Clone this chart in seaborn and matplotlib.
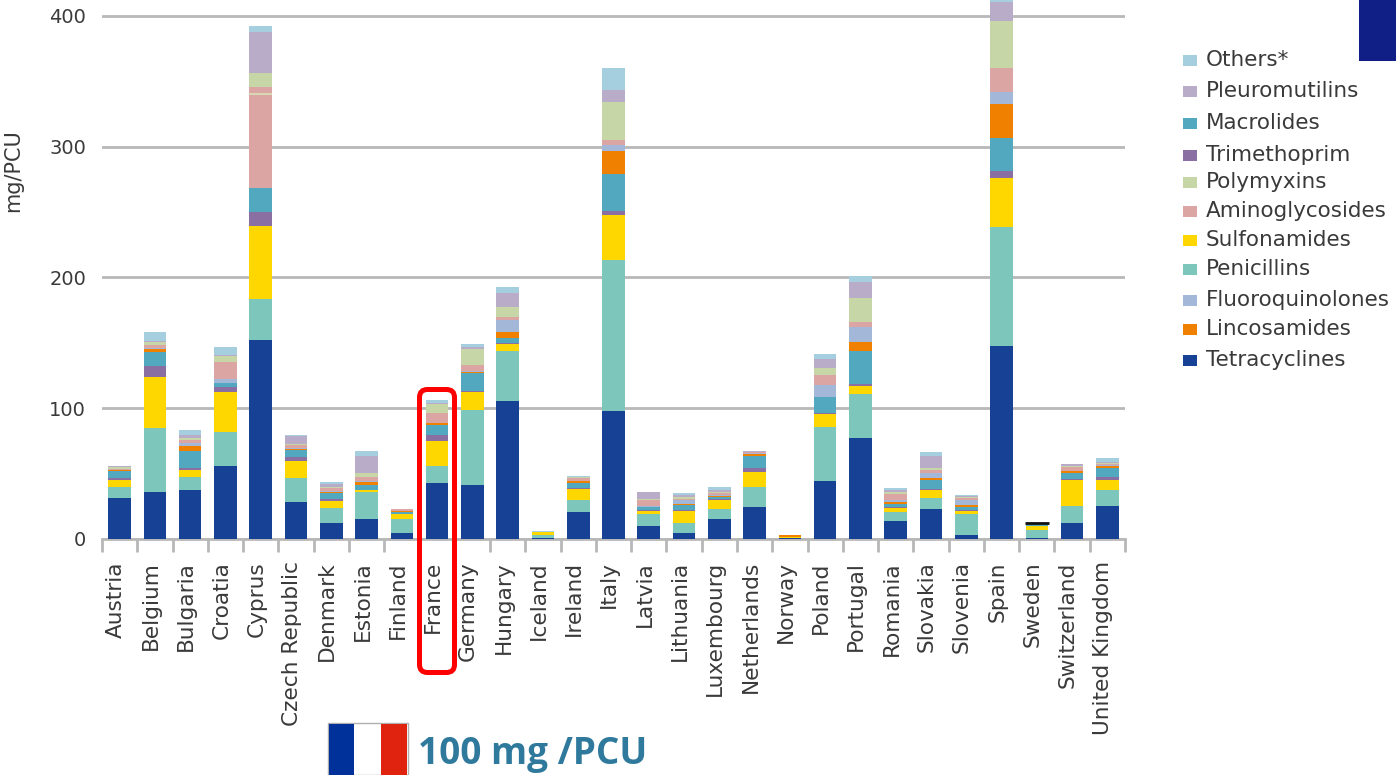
import matplotlib
matplotlib.use("Agg")
import matplotlib.pyplot as plt
import pandas as pd
import seaborn as sns
from matplotlib.patches import FancyBboxPatch, Rectangle
from matplotlib.transforms import IdentityTransform, ScaledTranslation

countries = ["Austria", "Belgium", "Bulgaria", "Croatia", "Cyprus", "Czech Republic", "Denmark", "Estonia",
             "Finland", "France", "Germany", "Hungary", "Iceland", "Ireland", "Italy", "Latvia", "Lithuania",
             "Luxembourg", "Netherlands", "Norway", "Poland", "Portugal", "Romania", "Slovakia", "Slovenia",
             "Spain", "Sweden", "Switzerland", "United Kingdom"]

tetracyclines = [31, 36, 37.5, 56, 152, 28, 12.3, 15.3, 4.7, 42.7, 41.6, 105.8, 0.8, 20.3, 97.8, 9.9, 4.7, 15.3, 24.4, 0.8, 44, 77, 13.7, 23, 3.3, 147.7, 0.8, 12.3, 25.5]
penicillins = [9, 49, 10.2, 26, 31.5, 19, 11.7, 20.6, 10.3, 12.9, 57.4, 37.8, 2.5, 9.3, 115.2, 9.1, 7.9, 7.4, 15.6, 0.3, 41.8, 34, 7.3, 8, 15.6, 90.9, 6.3, 13.2, 12]
sulfonamides = [5.5, 39, 5.3, 30.3, 56, 12.7, 5.3, 1.6, 4, 19.7, 13.3, 5.4, 1.9, 9, 34.4, 2.6, 9, 6.9, 11.5, 0.1, 9.5, 6.3, 3, 6.3, 2.5, 37.8, 2.5, 19.7, 8]
trimethoprim = [1, 8, 1.5, 3.7, 10.5, 2.8, 1.4, 0.3, 0.2, 4.2, 0.7, 1, 0, 0.6, 3.6, 0.4, 0.9, 1.1, 2.7, 0, 1.1, 1.6, 0.4, 1.1, 0.8, 5.2, 0.3, 0.8, 2.2]
macrolides = [5.5, 11, 12.9, 3, 18.8, 5.5, 4.1, 3.6, 1.8, 7.9, 13.6, 4, 0, 3.5, 28, 2.4, 3.3, 1.1, 9.1, 0.3, 12.1, 24.7, 2.4, 7.1, 2.2, 25, 0.5, 4.7, 6.8]
lincosamides = [0.5, 2, 4.1, 0.2, 0, 0.5, 1.4, 2.4, 0.4, 1.4, 1.4, 4, 0, 1.3, 18, 0.2, 1.3, 1.1, 1.7, 1.5, 0, 7.1, 1.4, 1.3, 1.4, 26.4, 0.5, 1.1, 1.4]
fluoroquinolones = [0.5, 1, 1.9, 3.5, 0, 0.8, 0.5, 0.6, 0.2, 0.2, 0.8, 9.4, 0, 0.3, 4, 0.6, 2.8, 0.5, 0.4, 0, 9, 11.5, 1.4, 3.9, 3.8, 9.2, 0.2, 0.3, 0.5]
aminoglycosides = [0.7, 2, 2.2, 12.9, 77.2, 2.7, 2.2, 3.3, 1.2, 7.4, 4.6, 2.6, 0, 2.7, 4, 4.4, 0.8, 1.4, 1.2, 0.2, 7.7, 3.8, 4.9, 2.3, 1.4, 18.3, 0.3, 2.7, 0.6]
polymyxins = [1.1, 3, 1.4, 4.1, 10.4, 1, 0.6, 3, 0.1, 6.6, 11.6, 7.8, 0.4, 0.3, 29, 1.1, 1.1, 1.4, 0.3, 0, 5.5, 18.4, 1.1, 1.5, 1, 35.5, 0.2, 0.8, 1.4]
pleuromutilins = [1.2, 0.5, 2.7, 1.3, 31.5, 5.4, 2.7, 12.9, 0.1, 1.2, 1.8, 10.7, 0, 0.3, 9, 5.3, 1.6, 1.1, 0.2, 0, 6.8, 12, 1.9, 9.1, 0.9, 14.4, 0.2, 1.4, 0.5]
others = [0.2, 6.5, 3.6, 5.6, 4.1, 1.1, 1.6, 3.8, 0.1, 2, 2.2, 4.1, 0.2, 0.4, 17.5, 0.2, 1.4, 2.7, 0.5, 0.1, 3.9, 5, 1.4, 2.7, 0.5, 5, 0.2, 0.2, 3.3]

classes = ["Others*", "Pleuromutilins", "Macrolides", "Trimethoprim", "Polymyxins", "Aminoglycosides",
           "Sulfonamides", "Penicillins", "Fluoroquinolones", "Lincosamides", "Tetracyclines"]
stack_order = ["Others*", "Pleuromutilins", "Polymyxins", "Aminoglycosides", "Fluoroquinolones", "Lincosamides",
               "Macrolides", "Trimethoprim", "Sulfonamides", "Penicillins", "Tetracyclines"]
colors = {"Others*": "#a5cfde", "Pleuromutilins": "#b9acc9", "Macrolides": "#52a9bf", "Trimethoprim": "#8a6fa3",
          "Polymyxins": "#c7d6a6", "Aminoglycosides": "#dba5a3", "Sulfonamides": "#ffd700", "Penicillins": "#7cc6bc",
          "Fluoroquinolones": "#a3b7d8", "Lincosamides": "#f08000", "Tetracyclines": "#164194"}
values = {"Others*": others, "Pleuromutilins": pleuromutilins, "Macrolides": macrolides, "Trimethoprim": trimethoprim,
          "Polymyxins": polymyxins, "Aminoglycosides": aminoglycosides, "Sulfonamides": sulfonamides,
          "Penicillins": penicillins, "Fluoroquinolones": fluoroquinolones, "Lincosamides": lincosamides,
          "Tetracyclines": tetracyclines}
y_ticks = [0, 100, 200, 300, 400]
sweden_mark = 12.3
cyprus_mark = 340

W, H = 1396, 775
text_color = "#3a3a3a"
grid_color = "#b8b8b8"

rows = []
for name in classes:
    for i, v in enumerate(values[name]):
        rows.append({"pos": i, "country": countries[i], "drug": name, "mg": v})
df = pd.DataFrame(rows)

sns.set_theme(style="white")
plt.rcParams["font.family"] = ["DejaVu Sans"]

fig = plt.figure(figsize=(W / 100, H / 100), dpi=100)
ax = fig.add_axes([102 / W, (H - 539) / H, (1125 - 102) / W, 539 / H])
sns.histplot(data=df, x="pos", weights="mg", hue="drug", hue_order=stack_order, palette=colors,
             multiple="stack", discrete=True, shrink=0.64, linewidth=0, alpha=1, legend=False, ax=ax, zorder=3)

ax.set_xlim(-0.5, len(countries) - 0.5)
ax.set_ylim(0, 412.2)
ax.set_yticks(y_ticks)
ax.set_yticklabels(y_ticks, fontsize=14, color=text_color)
ax.tick_params(axis="y", length=0, pad=11.5)
ax.grid(axis="y", color=grid_color, linewidth=2, zorder=1)
ax.set_axisbelow(True)
ax.set_xlabel("")
ax.set_ylabel("")
sns.despine(ax=ax, left=True, top=True, right=True)
ax.spines["bottom"].set_color(grid_color)
ax.spines["bottom"].set_linewidth(2)

# ticks sit on the category edges, labels in the middle
ax.set_xticks([i - 0.5 for i in range(len(countries) + 1)])
ax.set_xticklabels([])
ax.tick_params(axis="x", which="major", length=9.5, width=2, color=grid_color, bottom=True)
ax.set_xticks(range(len(countries)), minor=True)
ax.set_xticklabels(countries, minor=True, rotation=90, fontsize=15.6, color=text_color)
ax.tick_params(axis="x", which="minor", length=0, pad=16, bottom=True)
shift = ScaledTranslation(-3 / 72, 0, fig.dpi_scale_trans)
for lab in ax.get_xticklabels(minor=True):
    lab.set_transform(lab.get_transform() + shift)

sweden = countries.index("Sweden")
cyprus = countries.index("Cyprus")
ax.hlines(sweden_mark, sweden - 0.34, sweden + 0.34, color="#111111", linewidth=2, zorder=5)
ax.hlines(cyprus_mark, cyprus - 0.32, cyprus + 0.32, color="#d9e0b8", linewidth=1.2, zorder=5)

fig.text(13 / W, 1 - 171 / H, "mg/PCU", rotation=90, ha="center", va="center", fontsize=15, color=text_color)

# legend rows are not evenly spaced in the original
legend_y = [60, 91, 123, 155, 182, 211, 240, 269, 300, 329, 360]
px = IdentityTransform()
for name, y in zip(classes, legend_y):
    fig.add_artist(Rectangle((1183, H - y - 6), 14, 11, transform=px, facecolor=colors[name], edgecolor="none"))
    fig.text(1206 / W, 1 - y / H, name, ha="left", va="center", fontsize=15.5, color=text_color)

# corner block, highlight box and flag
fig.add_artist(Rectangle((1359, H - 61), 37, 61, transform=px, facecolor="#101f85", edgecolor="none"))
fig.add_artist(FancyBboxPatch((419.5, H - 672.5), 35, 283, boxstyle="round,pad=0,rounding_size=8", transform=px,
                              facecolor="none", edgecolor="#ff0000", linewidth=3.6, zorder=10))
fig.add_artist(Rectangle((328, 0), 80, 52, transform=px, facecolor="white", edgecolor="#b0b0b0", linewidth=1))
fig.add_artist(Rectangle((329, 0), 25, 51, transform=px, facecolor="#00309a", edgecolor="none"))
fig.add_artist(Rectangle((381, 0), 26, 51, transform=px, facecolor="#e0230f", edgecolor="none"))
fig.text(418 / W, 1 - 754 / H, "100 mg /PCU", ha="left", va="center", fontsize=26.6, fontweight="bold",
         family="Open Sans", color="#2f7a9c")

fig.savefig("out.png", dpi=100)
